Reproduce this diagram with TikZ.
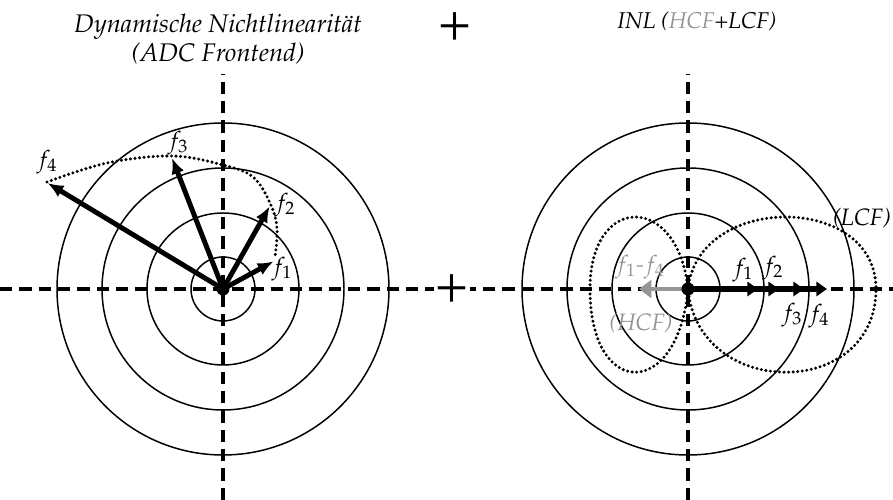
\documentclass[tikz,border=0pt]{standalone}
\usepackage[T1]{fontenc}
\usepackage{mathpazo}
\usepackage{xcolor}
\usetikzlibrary{arrows.meta}
\definecolor{hcfGray}{RGB}{150,150,150}

\begin{document}
\begin{tikzpicture}[
    x=0.02cm, y=0.02cm,
    font=\fontsize{13.5}{16.5}\selectfont\itshape,
    ring/.style={draw, line width=0.85pt},
    axis/.style={line width=2pt, dash pattern=on 7pt off 4pt},
    locus/.style={line width=1.9pt, dash pattern=on 0pt off 2.6pt, line cap=round},
    vec/.style={-{Latex[length=9pt,width=7.5pt]}, line width=2.8pt},
    bar/.style={-{Triangle[length=6pt,width=8pt]}, line width=3pt},
    lbl/.style={inner sep=0pt},
    plus/.style={font=\fontsize{31}{31}\selectfont\upshape, inner sep=1pt}
  ]
  \useasboundingbox (0,0) rectangle (893,500);
  \coordinate (L) at (223,211);
  \coordinate (R) at (688,211);

  % concentric rings
  \foreach \c in {L,R}
    \foreach \r in {32,76,121,166}
      \draw[ring] (\c) circle (\r);

  % axes
  \draw[axis] (0,211) -- (893,211);
  \draw[axis] (223,0) -- (223,426);
  \draw[axis] (688,0) -- (688,426);

  % titles
  \node[align=center, font=\fontsize{14.5}{16.5}\selectfont\itshape] (dyn) at (218,461)
    {Dynamische Nichtlinearit\"at\\(ADC Frontend)};
  \node[anchor=base, font=\fontsize{13}{15}\selectfont\itshape] (inl) at (697,471)
    {INL ({\color{hcfGray}HCF}+LCF)};
  \node[plus] (plustop) at (455,473) {+};
  \node[plus, fill=white] (plusmid) at (452,211) {+};

  % left: vectors
  \coordinate (lf1) at (273.6,238.6);
  \coordinate (lf2) at (269.6,293.6);
  \coordinate (lf3) at (172,342);
  \coordinate (lf4) at (47.6,317);
  \draw[locus] plot[smooth, tension=0.6] coordinates
    {(47,318) (107,337) (172,344) (223,335) (253,323) (270,297) (277,272) (275,243)};
  \foreach \t in {lf1,lf2,lf3,lf4}
    \draw[vec] (L) -- (\t);
  \fill (L) circle (6.5);
  \node[lbl] (lf1txt) at (282,231) {$f_1$};
  \node[lbl] (lf2txt) at (285,295) {$f_2$};
  \node[lbl] (lf3txt) at (178,357) {$f_3$};
  \node[lbl] (lf4txt) at (47,338) {$f_4$};

  % right: HCF and LCF loci
  \draw[locus] (R) .. controls (678,307) and (590,307) .. (590,211)
    .. controls (590,100) and (678,100) .. (R);
  \draw[locus] (R) .. controls (698,307) and (876,307) .. (876,211)
    .. controls (876,100) and (698,100) .. (R);

  % right: vectors
  \coordinate (rf1) at (758,211);
  \coordinate (rf2) at (779,211);
  \coordinate (rf3) at (804,211);
  \coordinate (rf4) at (827,211);
  \coordinate (rhcf) at (639,211);
  \draw[bar, hcfGray, line width=2.6pt, -{Triangle[length=7pt,width=10pt]}] (R) -- (rhcf);
  \foreach \t in {rf4,rf3,rf2,rf1}
    \draw[bar] (R) -- (\t);
  \fill (R) circle (6.5);
  \node[lbl] (rf1txt) at (743,230) {$f_1$};
  \node[lbl] (rf2txt) at (773,232) {$f_2$};
  \node[lbl] (rf3txt) at (792,185) {$f_3$};
  \node[lbl] (rf4txt) at (819,184) {$f_4$};
  \node[lbl, text=hcfGray] (rhcftxt) at (640,233) {$f_1$-$f_4$};
  \node[lbl, text=hcfGray] (hcf) at (641,177) {(HCF)};
  \node[lbl] (lcf) at (862,282) {(LCF)};
\end{tikzpicture}
\end{document}
